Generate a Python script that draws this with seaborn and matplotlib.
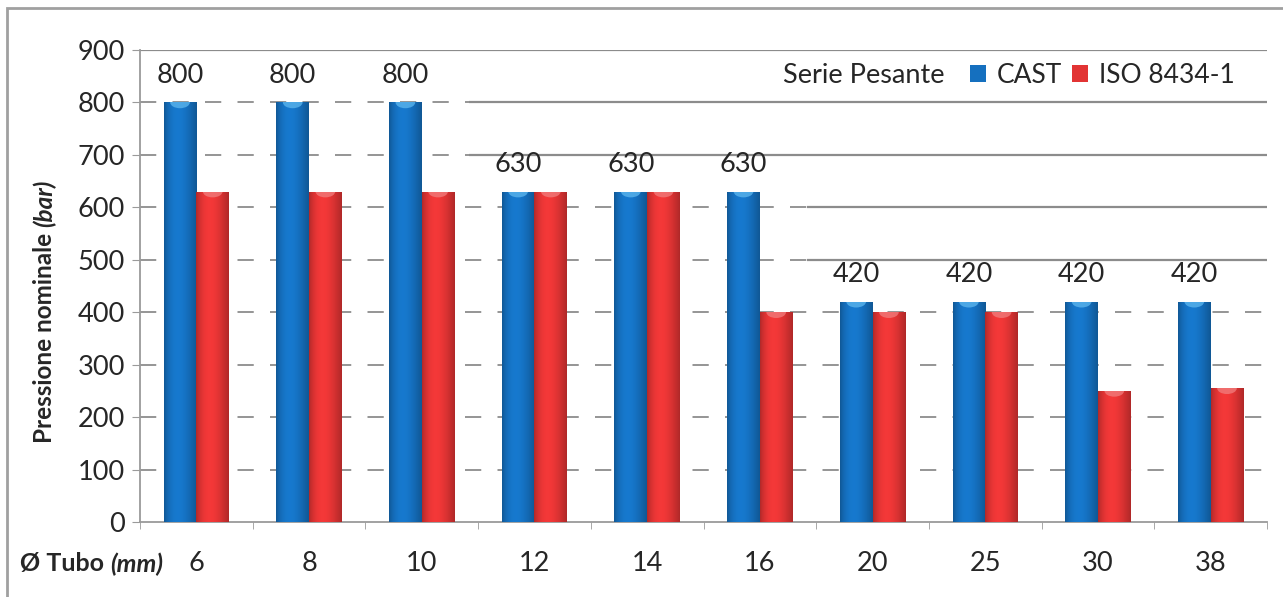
import numpy as np
import pandas as pd
import matplotlib.pyplot as plt
import seaborn as sns
from matplotlib.patches import Patch, Rectangle, Ellipse

tubo = ['6', '8', '10', '12', '14', '16', '20', '25', '30', '38']
cast = [800, 800, 800, 630, 630, 630, 420, 420, 420, 420]
iso = [630, 630, 630, 630, 630, 400, 400, 400, 250, 255]
serie = ['CAST', 'ISO 8434-1']
y_ticks = [0, 100, 200, 300, 400, 500, 600, 700, 800, 900]

blue = '#1570bf'
red = '#e23434'
caps = ['#5ab4ec', '#f07a7a']
grid_c = '#8c8c8c'
text_c = '#262626'

sns.set_style("white")
plt.rcParams['font.family'] = ['Lato', 'DejaVu Sans']

df = pd.DataFrame({
    'Tubo': tubo + tubo,
    'Pressione': cast + iso,
    'Serie': [serie[0]] * len(tubo) + [serie[1]] * len(tubo),
})

fig = plt.figure(figsize=(12.83, 5.97), dpi=100)
ax = fig.add_axes([140 / 1283, 1 - 522 / 597, 1127 / 1283, 472 / 597])

sns.barplot(data=df, x='Tubo', y='Pressione', hue='Serie', order=tubo,
            hue_order=serie, palette=[blue, red], width=0.58, gap=0,
            saturation=1, legend=False, ax=ax, zorder=3, linewidth=0)

# gradient shading on each bar (cylinder look) + light top cap
t = np.linspace(0, 1, 64)
shade = 0.78 + 0.30 * np.sin(np.pi * t ** 0.8)
for cont, base, cap in zip(ax.containers, [blue, red], caps):
    rgb = np.array(plt.matplotlib.colors.to_rgb(base))
    img = np.clip(rgb[None, :] * shade[:, None], 0, 1)[None, :, :]
    for bar in cont:
        x0, w, h = bar.get_x(), bar.get_width(), bar.get_height()
        im = ax.imshow(img, extent=[x0, x0 + w, 0, h], aspect='auto',
                       origin='lower', zorder=3.5, interpolation='bilinear')
        im.set_clip_path(bar)
        e = Ellipse((x0 + w / 2, h), w * 0.6, 22, facecolor=cap,
                    edgecolor='none', alpha=0.8, zorder=3.6)
        ax.add_patch(e)
        e.set_clip_path(bar)
ax.set_xlim(-0.5, len(tubo) - 0.5)
ax.set_ylim(0, 900)
ax.set_yticks(y_ticks)

# dashed gridlines, solid where the area above bars is empty
for v in y_ticks[1:-1]:
    ax.axhline(v, color=grid_c, lw=1.3, dashes=(9, 9), zorder=1)
ax.axhline(900, color=grid_c, lw=1.6, zorder=1)
for v, start in [(800, 2.42), (700, 2.42), (600, 5.42), (500, 5.42)]:
    ax.hlines(v, start, len(tubo) - 0.5, color=grid_c, lw=1.6, zorder=2)

# value labels over CAST bars
for bar in ax.containers[0]:
    h = bar.get_height()
    ax.annotate(f"{int(h)}", (bar.get_x() + bar.get_width() / 2, h),
                xytext=(0, 10.5), textcoords='offset points', ha='center',
                va='bottom', fontsize=19.5, color=text_c, zorder=5)

for s in ['top', 'right']:
    ax.spines[s].set_visible(False)
for s in ['left', 'bottom']:
    ax.spines[s].set_color('#9a9a9a')
    ax.spines[s].set_linewidth(1.3)

ax.tick_params(axis='y', length=6, color='#9a9a9a', labelsize=19.5,
               labelcolor=text_c, pad=5, left=True)
ax.tick_params(axis='x', which='major', length=0, labelsize=19.5,
               labelcolor=text_c, pad=21)
ax.set_xticks(np.arange(-0.5, len(tubo), 1), minor=True)
ax.tick_params(axis='x', which='minor', length=5, color='#9a9a9a', bottom=True)
ax.set_xlabel('')
ax.set_ylabel('')

# axis titles with italic unit parts
yl = fig.text(45 / 1283, 1 - 443 / 597, 'Pressione nominale ', rotation=90,
              ha='center', va='bottom', fontsize=17.5, fontweight='bold',
              color=text_c)
ax.annotate('(bar)', xy=(0.5, 1), xycoords=yl, rotation=90, ha='center',
            va='bottom', fontsize=17.5, fontweight='bold', fontstyle='italic',
            color=text_c, annotation_clip=False)

xl = fig.text(20 / 1283, 1 - 564 / 597, 'Ø Tubo ', ha='left', va='center',
              fontsize=18, fontweight='bold', color=text_c)
ax.annotate('(mm)', xy=(1, 0.5), xycoords=xl, ha='left', va='center',
            fontsize=18, fontweight='bold', fontstyle='italic',
            color=text_c, annotation_clip=False)

# legend
ax.text(0.714, 0.947, 'Serie Pesante', transform=ax.transAxes, ha='right',
        va='center', fontsize=19.5, color=text_c)
handles = [Patch(facecolor=blue, edgecolor='none'), Patch(facecolor=red, edgecolor='none')]
ax.legend(handles, serie, loc='center right', bbox_to_anchor=(0.971, 0.947),
          ncol=2, frameon=False, fontsize=19, handlelength=0.6, handleheight=0.6,
          handletextpad=0.4, columnspacing=0.4, borderpad=0, borderaxespad=0,
          labelcolor=text_c)

# outer frame
fig.patches.append(Rectangle((7 / 1283, -0.05), 1.1, 1 - 8 / 597 + 0.05,
                             transform=fig.transFigure, fill=False,
                             edgecolor='#a0a0a0', lw=2))

fig.savefig('out.png', dpi=100)
